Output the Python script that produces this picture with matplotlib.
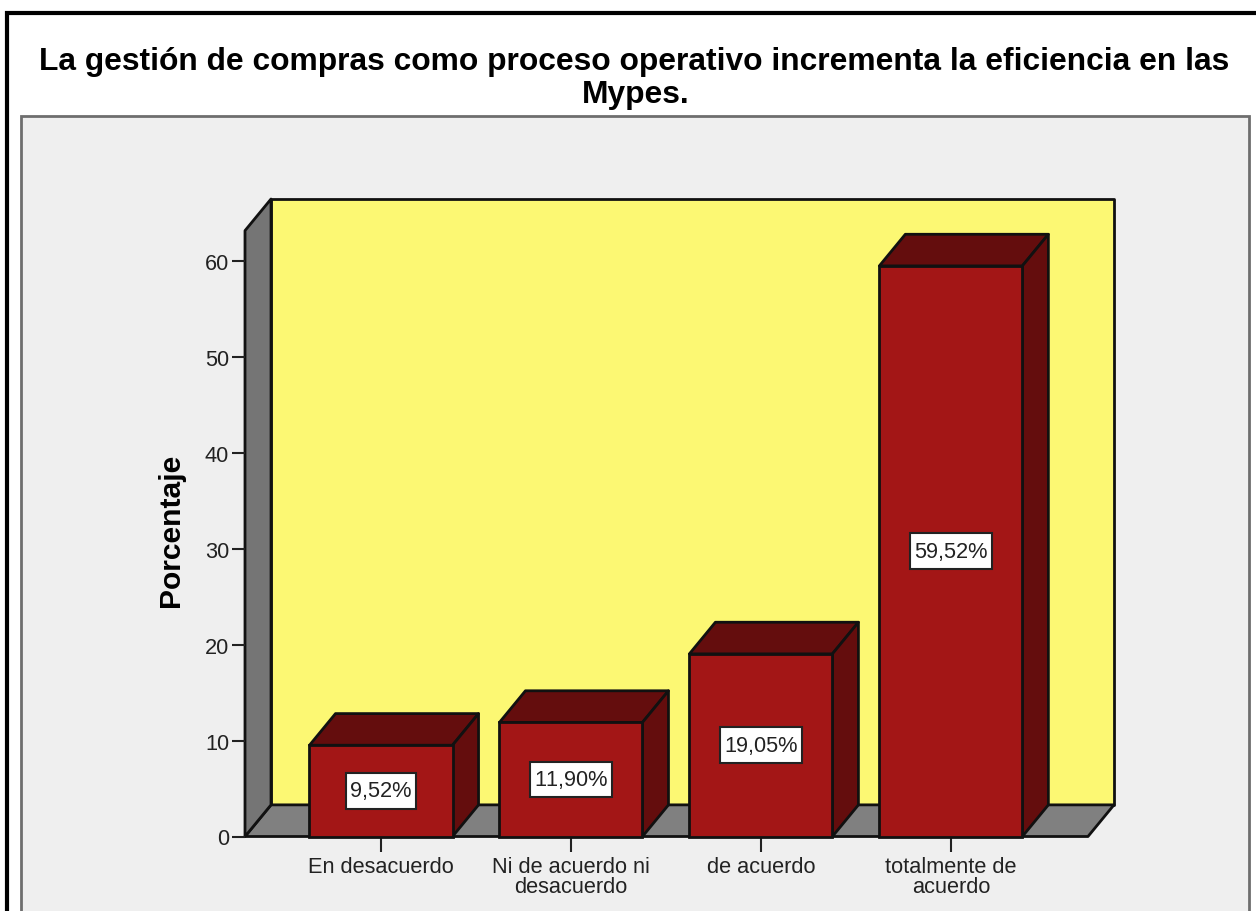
import matplotlib
matplotlib.use("Agg")
import matplotlib.pyplot as plt
from matplotlib.patches import Rectangle

categories = ["En desacuerdo", "Ni de acuerdo ni\ndesacuerdo", "de acuerdo", "totalmente de\nacuerdo"]
values = [9.52, 11.90, 19.05, 59.52]
value_labels = ["9,52%", "11,90%", "19,05%", "59,52%"]
y_ticks = [0, 10, 20, 30, 40, 50, 60]
title_lines = ["La gestión de compras como proceso operativo incrementa la eficiencia en las", "Mypes."]

W, H = 1256, 912
RED = "#A31616"
DARK = "#640D0D"
YELLOW = "#FCF873"
WALL = "#757575"
FLOOR = "#808080"
PANEL = "#EFEFEF"

plt.rcParams["font.family"] = ["Liberation Sans", "DejaVu Sans"]
plt.rcParams["text.kerning_factor"] = 6

fig = plt.figure(figsize=(W / 100, H / 100), dpi=100, facecolor="white")


def frame_rect(x0, y0, x1, y1, **kw):
    # pixel box, y measured from the top of the image
    fig.add_artist(Rectangle((x0 / W, 1 - y1 / H), (x1 - x0) / W, (y1 - y0) / H,
                             transform=fig.transFigure, zorder=-1, **kw))


frame_rect(6.5, 13.5, 1270, 930, facecolor="white", edgecolor="black", linewidth=3)
frame_rect(20.5, 117, 1249, 930, facecolor=PANEL, edgecolor="#6E6E6E", linewidth=2)

fig.text(634 / W, 1 - 62 / H, title_lines[0], ha="center", va="center",
         fontsize=22.9, fontweight="bold", color="black")
fig.text(636 / W, 1 - 95 / H, title_lines[1], ha="center", va="center",
         fontsize=22.9, fontweight="bold", color="black")

# axes box runs from front-left corner to the back-right corner of the 3d box
ax = fig.add_axes([245 / W, 1 - 837.5 / H, 869 / W, 637.5 / H])
ax.patch.set_visible(False)
x_left, x_right = -0.716, 3.722
y_top = 63.2
dx, dy = 0.137, 3.3
bar_w = 0.753
ax.set_xlim(x_left, x_right + dx)
ax.set_ylim(0, y_top + dy)

line = dict(edgecolor="#111111", linewidth=2, joinstyle="round", clip_on=False)

# back wall, floor, left wall
ax.fill([x_left + dx, x_right + dx, x_right + dx, x_left + dx],
        [dy, dy, y_top + dy, y_top + dy], facecolor=YELLOW, **line)
ax.fill([x_left, x_right, x_right + dx, x_left + dx],
        [0, 0, dy, dy], facecolor=FLOOR, **line)
ax.fill([x_left, x_left + dx, x_left + dx, x_left],
        [0, dy, y_top + dy, y_top], facecolor=WALL, **line)

xs = list(range(len(values)))
renderer = fig.canvas.get_renderer()
to_data = ax.transData.inverted()
for x, v, lab in zip(xs, values, value_labels):
    l, r = x - bar_w / 2, x + bar_w / 2
    ax.fill([l, r, r + dx, l + dx], [v, v, v + dy, v + dy], facecolor=DARK, zorder=3, **line)
    ax.fill([r, r + dx, r + dx, r], [0, dy, v + dy, v], facecolor=DARK, zorder=3, **line)
    ax.bar(x, v, width=bar_w, color=RED, edgecolor="#111111", linewidth=2, zorder=4, clip_on=False)
    t = ax.text(x, v / 2, lab, ha="center", va="center", fontsize=15.7, color="#222222", zorder=6)
    # label box: a little wider than the text, but much taller
    ext = t.get_window_extent(renderer)
    half_w = (to_data.transform((ext.x1 + 4, 0))[0] - to_data.transform((ext.x0 - 4, 0))[0]) / 2
    half_h = 1.85
    ax.add_patch(Rectangle((x - half_w, v / 2 - half_h), 2 * half_w, 2 * half_h, facecolor="white",
                           edgecolor="#222222", linewidth=1.5, zorder=5))

for side in ["top", "right", "left", "bottom"]:
    ax.spines[side].set_visible(False)

ax.set_yticks(y_ticks)
ax.set_xticks(xs)
ax.set_xticklabels(categories, linespacing=0.92)
ax.tick_params(axis="y", length=9.5, width=1.5, color="#222222", labelsize=15.7,
               labelcolor="#222222", pad=2)
ax.tick_params(axis="x", length=11, width=1.5, color="#222222", labelsize=15.7,
               labelcolor="#222222", pad=3)
ax.set_ylabel("Porcentaje", fontsize=21.6, fontweight="bold", color="black")
ax.yaxis.set_label_coords(-0.069, 0.4815)

fig.savefig("out.png", dpi=100)
plt.close(fig)
